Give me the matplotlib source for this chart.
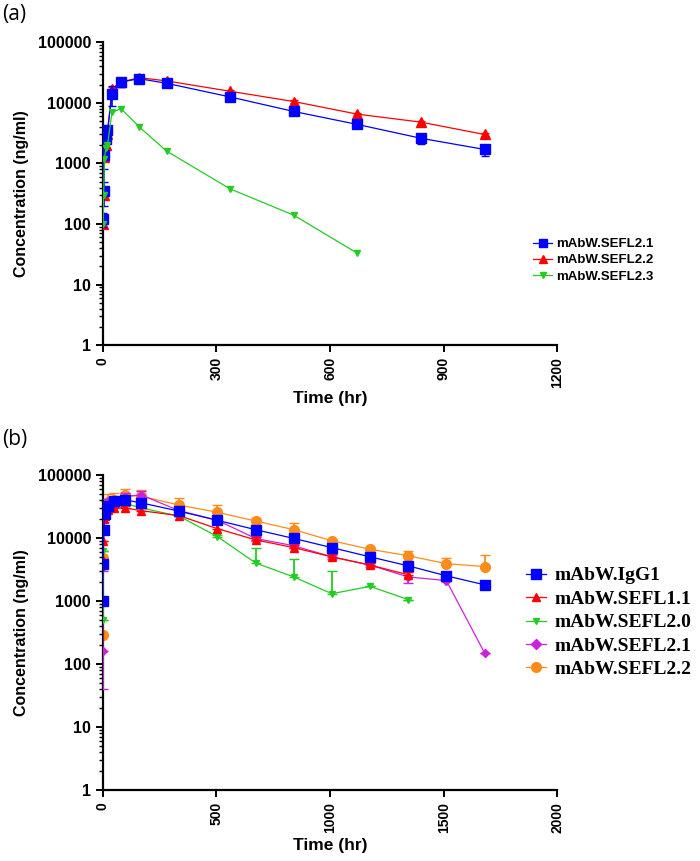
import numpy as np
import matplotlib
matplotlib.use("Agg")
import matplotlib.pyplot as plt
from matplotlib.lines import Line2D
from matplotlib.ticker import LogLocator, NullFormatter, FixedLocator

# ---- panel (a) data ----
t_a = [0.5, 2, 4, 8, 12, 24, 48, 96, 168, 336, 504, 672, 840, 1008]
a_sefl21 = [120, 350, 1400, 2500, 3500, 14000, 22000, 25000, 21000, 12500, 7200, 4400, 2600, 1700]
a_sefl21_err = [30, 150, 600, 400, 600, 5000, 3500, 2000, 1000, 800, 600, 400, 500, 350]
a_sefl22 = [100, 300, 1300, 2000, 3000, 17000, 22000, 26000, 23000, 15500, 10500, 6500, 4800, 3000]
a_sefl22_err = [10, 30, 100, 200, 300, 1500, 1500, 1500, 1000, 800, 600, 300, 300, 200]
t_a3 = [0.5, 2, 4, 8, 12, 24, 48, 96, 168, 336, 504, 672]
a_sefl23 = [100, 300, 1200, 1800, 2000, 7000, 8000, 4000, 1600, 380, 140, 33]

# ---- panel (b) data ----
t_b = [0.083, 1, 4, 8, 24, 48, 96, 168, 336, 504, 672, 840, 1008, 1176, 1344, 1512, 1680]
b_igg1 = [1000, 3800, 13500, 24000, 32000, 38000, 40000, 36000, 26500, 19000, 13500, 9800, 7000, 5000, 3600, 2500, 1800]
b_igg1_up = [0, 0, 1000, 2000, 3000, 3000, 3000, 3000, 2000, 1500, 1000, 800, 500, 400, 300, 200, 150]
t_b11 = t_b[:15]
b_sefl11 = [4500, 9000, 20000, 22000, 28000, 30000, 30000, 27000, 22500, 14000, 9300, 7000, 5000, 3700, 2600]
b_sefl11_up = [0, 0, 2000, 2000, 2500, 2500, 2500, 2500, 2000, 2500, 1000, 800, 500, 300, 300]
b_sefl20 = [500, 6300, 20000, 28000, 33000, 35000, 35000, 30000, 22000, 10500, 4000, 2400, 1300, 1700, 1050]
b_sefl20_up = [0, 0, 0, 0, 2000, 2000, 2000, 2000, 1000, 800, 3000, 2200, 1650, 0, 0]
b_sefl21 = [160, 3500, 20000, 32000, 38000, 40000, 45000, 48000, 27000, 19000, 9800, 7500, 5000, 3700, 2400, 2100, 150]
b_sefl21_lo = [120, 500, 2000, 2000, 2000, 2000, 3000, 3000, 2000, 1500, 800, 600, 400, 300, 500, 0, 0]
b_sefl21_up = [0, 500, 2000, 3000, 3000, 3000, 6000, 7000, 2000, 1500, 800, 600, 400, 300, 500, 0, 0]
b_sefl22 = [290, 4800, 23000, 33000, 37000, 40000, 48000, 46000, 33000, 25500, 18500, 13500, 9000, 6600, 5200, 3900, 3500]
b_sefl22_up = [0, 0, 4000, 8000, 13000, 12000, 12000, 12000, 10000, 7500, 2500, 3500, 0, 0, 1000, 900, 1800]

sans = ['Liberation Sans', 'DejaVu Sans']
serif = ['Liberation Serif', 'DejaVu Serif']

fig = plt.figure(figsize=(7.0, 8.61), dpi=100)

def style_axes(ax, xmax, xstep):
    ax.set_yscale('log')
    ax.set_ylim(1, 100000)
    ax.set_xlim(0, xmax)
    ax.spines['top'].set_visible(False)
    ax.spines['right'].set_visible(False)
    ax.spines['left'].set_linewidth(1.6)
    ax.spines['bottom'].set_linewidth(1.6)
    ax.xaxis.set_major_locator(FixedLocator(np.arange(0, xmax + 1, xstep)))
    ax.yaxis.set_minor_locator(LogLocator(base=10, subs=np.arange(2, 10), numticks=10))
    ax.yaxis.set_minor_formatter(NullFormatter())
    ax.set_yticks([1, 10, 100, 1000, 10000, 100000])
    ax.set_yticklabels(['1', '10', '100', '1000', '10000', '100000'])
    ax.tick_params(axis='both', which='major', width=1.4, length=5)
    ax.tick_params(axis='y', which='minor', width=1.0, length=3)
    for lab in ax.get_xticklabels():
        lab.set_rotation(90)
        lab.set_fontweight('bold')
        lab.set_family(sans)
        lab.set_fontsize(10)
    for lab in ax.get_yticklabels():
        lab.set_fontweight('bold')
        lab.set_family(sans)
        lab.set_fontsize(11.5)
    ax.set_ylabel('Concentration (ng/ml)', fontsize=11.5, fontweight='bold', family=sans, labelpad=6)

def handle(color, marker, ms):
    return Line2D([], [], color=color, marker=marker, ms=ms, lw=0.9)

# ---- panel (a) ----
ax1 = fig.add_axes([0.147, 0.599, 0.649, 0.352])
ax1.errorbar(t_a, a_sefl22, yerr=a_sefl22_err, color='#ff0000', marker='^', ms=6.5, lw=0.9,
             elinewidth=1.2, capsize=3, zorder=3)
ax1.errorbar(t_a, a_sefl21, yerr=a_sefl21_err, color='#0000ff', marker='s', ms=7, lw=0.9,
             elinewidth=1.2, capsize=3, zorder=4)
ax1.plot(t_a3, a_sefl23, color='#22cc22', marker='v', ms=5, lw=0.9, zorder=5)
style_axes(ax1, 1200, 300)
ax1.set_xlabel('Time (hr)', fontsize=12.5, fontweight='bold', family=sans, labelpad=2)
ax1.legend([handle('#0000ff', 's', 6), handle('#ff0000', '^', 6), handle('#22cc22', 'v', 5)],
           ['mAbW.SEFL2.1', 'mAbW.SEFL2.2', 'mAbW.SEFL2.3'], loc='upper left',
           bbox_to_anchor=(0.745, 0.7375), bbox_transform=fig.transFigure, frameon=False,
           prop={'family': sans, 'weight': 'bold', 'size': 9.5}, handlelength=1.4,
           handletextpad=0.35, labelspacing=0.3)
fig.text(0.003, 0.995, '(a)', fontsize=15, family=['Open Sans', 'DejaVu Sans'], va='top')

# ---- panel (b) ----
ax2 = fig.add_axes([0.147, 0.0825, 0.649, 0.366])
ax2.errorbar(t_b, b_sefl22, yerr=[np.zeros(len(b_sefl22)), b_sefl22_up], color='#ff8c1a',
             marker='o', ms=7, lw=0.9, elinewidth=1.3, capsize=3.5, zorder=2)
ax2.errorbar(t_b, b_sefl21, yerr=[b_sefl21_lo, b_sefl21_up], color='#cc22dd',
             marker='D', ms=4.5, lw=0.9, elinewidth=1.3, capsize=3.5, zorder=3)
ax2.errorbar(t_b11, b_sefl20, yerr=[np.zeros(len(b_sefl20)), b_sefl20_up], color='#22cc22',
             marker='v', ms=5, lw=0.9, elinewidth=1.3, capsize=3.5, zorder=4)
ax2.errorbar(t_b11, b_sefl11, yerr=[np.zeros(len(b_sefl11)), b_sefl11_up], color='#ff0000',
             marker='^', ms=6, lw=0.9, elinewidth=1.3, capsize=3.5, zorder=5)
ax2.errorbar(t_b, b_igg1, yerr=[np.zeros(len(b_igg1)), b_igg1_up], color='#0000ff',
             marker='s', ms=6.5, lw=0.9, elinewidth=1.3, capsize=3.5, zorder=6)
style_axes(ax2, 2000, 500)
ax2.set_xlabel('Time (hr)', fontsize=12.5, fontweight='bold',
               family=['Liberation Sans Narrow', 'Liberation Sans', 'DejaVu Sans'], labelpad=4)
ax2.legend([handle('#0000ff', 's', 7), handle('#ff0000', '^', 6), handle('#22cc22', 'v', 5),
            handle('#cc22dd', 'D', 5), handle('#ff8c1a', 'o', 7)],
           ['mAbW.IgG1', 'mAbW.SEFL1.1', 'mAbW.SEFL2.0', 'mAbW.SEFL2.1', 'mAbW.SEFL2.2'],
           loc='upper left', bbox_to_anchor=(0.727, 0.362), bbox_transform=fig.transFigure,
           frameon=False, prop={'family': serif, 'weight': 'bold', 'size': 14},
           handlelength=1.0, handletextpad=0.45, labelspacing=0.3)
fig.text(0.003, 0.502, '(b)', fontsize=15, family=['Open Sans', 'DejaVu Sans'], va='top')

fig.savefig('out.png', dpi=100)
